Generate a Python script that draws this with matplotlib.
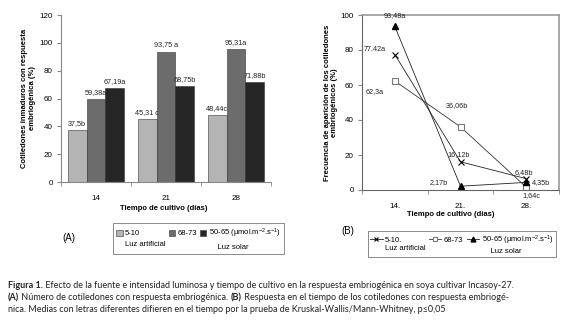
import matplotlib
matplotlib.use('Agg')
import matplotlib.pyplot as plt
from matplotlib.patches import Patch
from matplotlib.lines import Line2D
import numpy as np

plt.rcParams['font.family'] = ['Liberation Sans', 'DejaVu Sans']
plt.rcParams['mathtext.fontset'] = 'custom'
plt.rcParams['mathtext.rm'] = 'Liberation Sans'
plt.rcParams['mathtext.it'] = 'Liberation Sans'

# --- data ---
dias = ['14', '21', '28']
dias_b = ['14.', '21.', '28.']
series = ['5-10', '68-73', r'50-65 (µmol.m$^{-2}$.s$^{-1}$)']
series_b = ['5-10.', '68-73', r'50-65 (µmol.m$^{-2}$.s$^{-1}$)']
bar_vals = [[37.5, 45.31, 48.44],
            [59.38, 93.75, 95.31],
            [67.19, 68.75, 71.88]]
bar_labels = [['37,5b', '45,31 c', '48,44c'],
              ['59,38a', '93,75 a', '95,31a'],
              ['67,19a', '68,75b', '71,88b']]
line_vals = [[77.42, 16.12, 6.48],
             [62.3, 36.06, 1.64],
             [93.48, 2.17, 4.35]]
line_labels = [['77,42a', '16,12b', '6,48b'],
               ['62,3a', '36,06b', '1,64c'],
               ['93,48a', '2,17b', '4,35b']]
# label offsets in pixels, per series/point
line_offsets = [[(-20, 6), (-2, 7), (-2, 6)],
                [(-20, -11), (-4, 21), (5, -8)],
                [(0, 11), (-22, 4), (15, 0)]]

bar_colors = ['#b4b4b4', '#6c6c6c', '#262626']
fs = 5.5

fig = plt.figure(figsize=(5.79, 3.25), dpi=100)

# ---------- panel A ----------
axA = fig.add_axes([61/579, 1-182/325, 210/579, 167/325])
x = np.arange(len(dias))
w = 0.27
for i in range(3):
    xs = x + (i-1)*w
    axA.bar(xs, bar_vals[i], w, color=bar_colors[i], edgecolor='#333333', linewidth=0.4, label=series[i])
    for xx, v, lab in zip(xs, bar_vals[i], bar_labels[i]):
        axA.annotate(lab, (xx, v), xytext=(0, 3), textcoords='offset pixels',
                     ha='center', va='bottom', fontsize=fs-0.3, color='#222222')
axA.set_xlim(-0.5, 2.5)
axA.set_ylim(0, 120)
axA.set_yticks(range(0, 121, 20))
axA.set_xticks(x)
axA.set_xticklabels(dias)
axA.set_xticks([-0.5, 0.5, 1.5, 2.5], minor=True)
axA.tick_params(axis='x', which='major', length=0, pad=9, labelsize=fs+0.3)
axA.tick_params(axis='x', which='minor', length=3, color='#888888')
axA.tick_params(axis='y', length=3, color='#888888', labelsize=fs+0.3, pad=3)
for s in ['top', 'right']:
    axA.spines[s].set_visible(False)
for s in ['left', 'bottom']:
    axA.spines[s].set_color('#888888')
    axA.spines[s].set_linewidth(0.8)
axA.set_ylabel('Cotiledones inmaduros con respuesta\nembriogénica (%)', fontsize=fs,
               fontweight='bold', linespacing=1.15)
axA.yaxis.set_label_coords(-0.12, 0.5)
axA.set_xlabel('Tiempo de cultivo (días)', fontsize=fs, fontweight='bold')
axA.xaxis.set_label_coords(0.49, -0.135)

handles = []
for i in range(3):
    handles.append(Patch(facecolor=bar_colors[i], edgecolor='#333333', linewidth=0.4))
    handles.append(Line2D([], [], alpha=0))
leg_labels = [series[0], 'Luz artificial', series[1], '', series[2], '    Luz solar']
legA = fig.legend(handles, leg_labels, ncol=3, loc='upper left', bbox_to_anchor=(113/579, 1-223/325),
                  fontsize=fs, frameon=True, fancybox=False, handlelength=0.8, handleheight=0.8,
                  handletextpad=0.35, columnspacing=0.4, labelspacing=0.45, borderpad=0.45,
                  borderaxespad=0)
legA.get_frame().set_edgecolor('#555555')
legA.get_frame().set_linewidth(0.6)
fig.text(62/579, 1-238/325, '(A)', fontsize=fs+1.5, ha='left', va='center')

# ---------- panel B ----------
axB = fig.add_axes([362/579, 1-190/325, 197/579, 175/325])
markers = [dict(marker='x', ms=5, mfc='k', mec='k', mew=0.8, color='#222222'),
           dict(marker='s', ms=5, mfc='white', mec='#777777', mew=0.8, color='#333333'),
           dict(marker='^', ms=5, mfc='k', mec='k', color='#222222')]
for i in range(3):
    axB.plot(x, line_vals[i], lw=0.6, label=series_b[i], **markers[i])
    for xx, v, lab, off in zip(x, line_vals[i], line_labels[i], line_offsets[i]):
        axB.annotate(lab, (xx, v), xytext=off, textcoords='offset pixels',
                     ha='center', va='center', fontsize=fs-0.3, color='#222222')
axB.set_xlim(-0.5, 2.5)
axB.set_ylim(0, 100)
axB.set_yticks(range(0, 101, 20))
axB.set_xticks(x)
axB.set_xticklabels(dias_b)
axB.set_xticks([-0.5, 0.5, 1.5, 2.5], minor=True)
axB.tick_params(axis='x', which='major', length=0, pad=9, labelsize=fs+0.3)
axB.tick_params(axis='x', which='minor', length=3, color='#888888')
axB.tick_params(axis='y', length=3, color='#888888', labelsize=fs+0.3, pad=3)
for s in ['left', 'bottom']:
    axB.spines[s].set_color('#666666')
    axB.spines[s].set_linewidth(0.8)
for s in ['top', 'right']:
    axB.spines[s].set_color('#999999')
    axB.spines[s].set_linewidth(1.2)
axB.set_ylabel('Frecuencia de aparición de los cotiledones\nembriogénicos (%)', fontsize=fs,
               fontweight='bold', linespacing=1.15)
axB.yaxis.set_label_coords(-0.12, 0.5)
axB.set_xlabel('Tiempo de cultivo (días)', fontsize=fs, fontweight='bold')
axB.xaxis.set_label_coords(0.45, -0.12)

handlesB = []
for i in range(3):
    handlesB.append(Line2D([], [], lw=0.6, ms=3.5, **{k: v for k, v in markers[i].items() if k != 'ms'}))
    handlesB.append(Line2D([], [], alpha=0))
leg_labelsB = [series_b[0], 'Luz artificial', series_b[1], '', series_b[2], '    Luz solar']
legB = fig.legend(handlesB, leg_labelsB, ncol=3, loc='upper left', bbox_to_anchor=(368/579, 1-231/325),
                  fontsize=fs, frameon=True, fancybox=False, handlelength=1.6,
                  handletextpad=0.3, columnspacing=0.5, labelspacing=0.1, borderpad=0.3,
                  borderaxespad=0)
legB.get_frame().set_edgecolor('#555555')
legB.get_frame().set_linewidth(0.6)
fig.text(348/579, 1-231/325, '(B)', fontsize=fs+1.5, ha='center', va='center')

# ---------- caption ----------
cap = [[('Figura 1.', 'bold'), (' Efecto de la fuente e intensidad luminosa y tiempo de cultivo en la respuesta embriogénica en soya cultivar Incasoy-27.', 'normal')],
       [('(A)', 'bold'), (' Número de cotiledones con respuesta embriogénica. ', 'normal'), ('(B)', 'bold'),
        (' Respuesta en el tiempo de los cotiledones con respuesta embriogé-', 'normal')],
       [('nica. Medias con letras diferentes difieren en el tiempo por la prueba de Kruskal-Wallis/Mann-Whitney, p≤0,05', 'normal')]]
r = fig.canvas.get_renderer()
y0 = 286
for line in cap:
    xpx = 8
    for txt, wgt in line:
        t = fig.text(xpx/579, 1-y0/325, txt, fontsize=6.5, fontweight=wgt, family=['Lato', 'DejaVu Sans'],
                     va='center', ha='left', color='#222222')
        xpx = t.get_window_extent(r).x1
    y0 += 11.5

fig.savefig('out.png', dpi=100)
